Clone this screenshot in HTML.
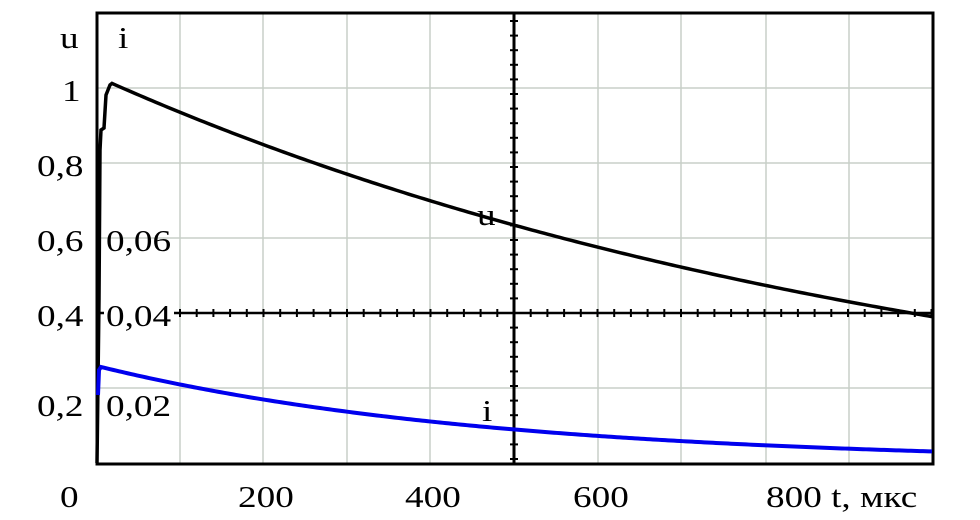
<!DOCTYPE html>
<html><head><meta charset="utf-8"><style>
html,body{margin:0;padding:0;background:#fff;}
svg{display:block;}
text{font-family:"Liberation Serif",serif;font-size:31px;fill:#000;}
</style></head><body>
<svg id="s" width="980" height="520" viewBox="0 0 980 520" xmlns="http://www.w3.org/2000/svg">
<g stroke="#c8cfc8" stroke-width="1.5">
<line x1="180" y1="13" x2="180" y2="464"/><line x1="263" y1="13" x2="263" y2="464"/>
<line x1="347" y1="13" x2="347" y2="464"/><line x1="430" y1="13" x2="430" y2="464"/>
<line x1="598" y1="13" x2="598" y2="464"/><line x1="681" y1="13" x2="681" y2="464"/>
<line x1="766" y1="13" x2="766" y2="464"/><line x1="849" y1="13" x2="849" y2="464"/>
<line x1="97" y1="88" x2="933" y2="88"/><line x1="97" y1="163" x2="933" y2="163"/>
<line x1="97" y1="238" x2="933" y2="238"/><line x1="97" y1="388" x2="933" y2="388"/>
</g>
<rect x="97" y="13" width="836" height="451" fill="none" stroke="#000" stroke-width="3"/>
<line x1="97" y1="313" x2="933" y2="313" stroke="#000" stroke-width="2.5"/>
<line x1="514" y1="13" x2="514" y2="464" stroke="#000" stroke-width="3"/>
<g id="ticks" stroke="#000" stroke-width="2"></g>
<rect x="104" y="290" width="70" height="34" fill="#fff"/>
<polyline id="u" fill="none" stroke="#000" stroke-width="3.5"/>
<polyline id="i" fill="none" stroke="#0000ee" stroke-width="4"/>
<g id="labels"></g>
</svg>
<script>
var ns="http://www.w3.org/2000/svg",g=document.getElementById("ticks");
function L(a,b,c,d){var l=document.createElementNS(ns,"line");l.setAttribute("x1",a);l.setAttribute("y1",b);l.setAttribute("x2",c);l.setAttribute("y2",d);g.appendChild(l);}
for(var x=180;x<933;x+=16.7){L(x,309,x,317);}
for(var y=313-14.6;y>14;y-=14.6)L(510,y,518,y);
for(var y=313+14.6;y<462;y+=14.6)L(510,y,518,y);
var u=[[97,463],[99,300],[100,150],[101,130],[104,128],[106,95],[110,85]];
for(var x=112;x<=933;x+=4){var t=(x-97)/0.8355;u.push([x,463-375*1.03*Math.exp(-(t)/1030)]);}
document.getElementById("u").setAttribute("points",u.map(p=>p.join(",")).join(" "));
var a=[[98,395],[99,370],[101,367]];
for(var x=104;x<=933;x+=3){var t=(x-97)/0.8355;a.push([x,463-97*Math.exp(-t/470)]);}
document.getElementById("i").setAttribute("points",a.map(p=>p.join(",")).join(" "));
var lb=document.getElementById("labels");
[["u",60,48],["i",118,48],["1",62,101],["0,8",37,176],["0,6",37,251],["0,06",106,251],
 ["0,4",37,326],["0,04",106,326],["0,2",37,416],["0,02",106,416],["0",60,507],
 ["200",238,507],["400",405,507],["600",573,507],["800 t, мкс",766,507],["u",477,225],["i",482,421]
].forEach(function(d){var t=document.createElementNS(ns,"text");t.textContent=d[0];
t.setAttribute("transform","translate("+d[1]+","+d[2]+") scale(1.2,1)");lb.appendChild(t);});
</script>
</body></html>
